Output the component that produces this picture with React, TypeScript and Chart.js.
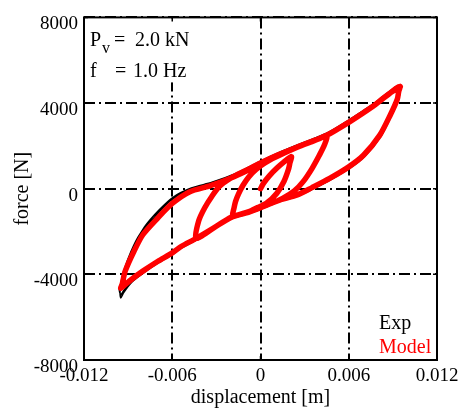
import React, { useEffect, useRef } from 'react';
import { Chart, registerables } from 'chart.js';

Chart.register(...registerables);

// ---------- tick labels ----------
const xTickValues = [-0.012, -0.006, 0, 0.006, 0.012];
const xTickLabels = ['-0.012', '-0.006', '0', '0.006', '0.012'];
const yTickValues = [-8000, -4000, 0, 4000, 8000];
const yTickLabels = ['-8000', '-4000', '0', '4000', '8000'];

// ---------- series: [displacement (m), force (N)] ----------
// Model (red)
const modelStart = [[0, 0], [0.0002, 250], [0.0006, 600], [0.0011, 950], [0.0016, 1250], [0.0021, 1500]];
const modelLoop1Down = [[0.002, 1200], [0.0019, 900], [0.0016, 350], [0.0011, -220], [0.0004, -680], [-0.0002, -880], [-0.0008, -1080], [-0.0014, -1200], [-0.0019, -1300]];
const modelLoop1Up = [[-0.0018, -900], [-0.0017, -600], [-0.0015, -250], [-0.0012, 150], [-0.0008, 550], [-0.0003, 900], [0.0003, 1200], [0.0012, 1550], [0.0025, 1950], [0.0035, 2200], [0.0045, 2450]];
const modelLoop2Down = [[0.00435, 2050], [0.004, 1560], [0.0035, 940], [0.0029, 330], [0.0023, -100], [0.0015, -450], [0.0005, -750], [-0.0007, -1070], [-0.002, -1340], [-0.0032, -1840], [-0.0044, -2330]];
const modelLoop2Up = [[-0.0042, -1500], [-0.0038, -900], [-0.0033, -350], [-0.0028, 100], [-0.002, 500], [-0.001, 850], [0, 1200], [0.0012, 1580], [0.0025, 1950], [0.0045, 2500], [0.006, 3100], [0.007, 3550], [0.0077, 3875], [0.0083, 4200], [0.0088, 4460], [0.0092, 4680], [0.0095, 4770]];
const modelOuterDown = [[0.0094, 4550], [0.0093, 4180], [0.0088, 3410], [0.0081, 2490], [0.007, 1560], [0.006, 1020], [0.0047, 480], [0.0035, 50], [0.0025, -290], [0.0013, -530], [0.0002, -830], [-0.001, -1120], [-0.002, -1330], [-0.0032, -1840], [-0.0044, -2330], [-0.0054, -2700], [-0.006, -3000], [-0.007, -3400], [-0.008, -3850], [-0.0088, -4250], [-0.0095, -4650]];
const modelOuterUp = [[-0.0094, -4450], [-0.0092, -3850], [-0.0086, -2920], [-0.008, -2150], [-0.007, -1380], [-0.006, -690], [-0.0048, -140], [-0.0034, 140], [-0.0018, 560], [0, 1150], [0.0025, 1940], [0.0045, 2490], [0.006, 3100], [0.0077, 3875], [0.0088, 4460], [0.0094, 4720], [0.0095, 4770]];

// Exp (black)
const expStart = [[0, 0], [0.0002, 280], [0.0006, 630], [0.0011, 980], [0.0016, 1280], [0.0021, 1530]];
const expLoop1Down = [[0.002, 1230], [0.0019, 900], [0.0016, 320], [0.0011, -270], [0.0004, -740], [-0.0002, -940], [-0.0008, -1140], [-0.0014, -1260], [-0.0019, -1370]];
const expLoop1Up = [[-0.0018, -950], [-0.0017, -630], [-0.0015, -250], [-0.0012, 180], [-0.0008, 610], [-0.0003, 970], [0.0003, 1290], [0.0012, 1640], [0.0025, 2040], [0.0035, 2290], [0.0045, 2540]];
const expLoop2Down = [[0.00437, 2100], [0.004, 1570], [0.0035, 920], [0.0029, 290], [0.0023, -150], [0.0015, -510], [0.0005, -820], [-0.0007, -1140], [-0.002, -1410], [-0.0032, -1910], [-0.0044, -2410]];
const expLoop2Up = [[-0.00425, -1600], [-0.0039, -950], [-0.0034, -380], [-0.0029, 100], [-0.002, 580], [-0.001, 940], [0, 1290], [0.0012, 1670], [0.0025, 2040], [0.0045, 2590], [0.006, 3200], [0.007, 3650], [0.0077, 3970], [0.0083, 4300], [0.0088, 4560], [0.0092, 4760], [0.00955, 4830]];
const expOuterDown1 = [[0.0095, 4600], [0.0094, 4200], [0.0089, 3400], [0.0082, 2460], [0.0071, 1520], [0.0061, 970], [0.0048, 430], [0.0036, 0], [0.0025, -360], [0.0013, -600], [0.0002, -900], [-0.001, -1190], [-0.002, -1400], [-0.0032, -1910], [-0.0044, -2410], [-0.0054, -2780], [-0.006, -3080], [-0.007, -3490], [-0.008, -3960], [-0.0088, -4400], [-0.0093, -4850], [-0.0095, -5100]];
const expOuterUp1 = [[-0.00955, -4850], [-0.0095, -4450], [-0.0093, -3850], [-0.0088, -2920], [-0.0082, -2120], [-0.0072, -1330], [-0.0062, -600], [-0.005, -100], [-0.0035, 200], [-0.0018, 650], [0, 1260], [0.0025, 2040], [0.0045, 2590], [0.006, 3200], [0.0077, 3970], [0.0088, 4560], [0.0094, 4800], [0.0095, 4830]];
const expOuterDown2 = [[0.00945, 4550], [0.0094, 4200], [0.0089, 3410], [0.0082, 2470], [0.0071, 1530], [0.0061, 980], [0.0048, 440], [0.0036, 10], [0.0025, -350], [0.0013, -590], [0.0002, -890], [-0.001, -1180], [-0.002, -1390], [-0.0032, -1900], [-0.0044, -2400], [-0.0054, -2770], [-0.006, -3060], [-0.007, -3470], [-0.008, -3930], [-0.0088, -4350], [-0.0093, -4750], [-0.0095, -4950]];
const expOuterUp2 = [[-0.0096, -4700], [-0.0094, -4250], [-0.0091, -3550], [-0.0086, -2650], [-0.0079, -1800], [-0.0069, -1000], [-0.0059, -380], [-0.0047, 30], [-0.0033, 300], [-0.0018, 680], [0, 1270]];

const modelPath = [modelStart, modelLoop1Down, modelLoop1Up, modelLoop2Down, modelLoop2Up, modelOuterDown, modelOuterUp];
const expPath = [expStart, expLoop1Down, expLoop1Up, expLoop2Down, expLoop2Up, expOuterDown1, expOuterUp1, expOuterDown2, expOuterUp2];

const SERIF = "'Liberation Serif', 'Times New Roman', serif";

const toPoints = (segs: number[][][]) => segs.flat().map(([x, y]) => ({ x, y }));

const decorPlugin = {
  id: 'decor',
  afterDraw(chart: any) {
    const { ctx, chartArea, scales } = chart;
    const { left, right, top, bottom } = chartArea;
    ctx.save();
    ctx.setLineDash([]);

    // white box behind the annotation text (covers grid)
    ctx.fillStyle = '#fff';
    ctx.fillRect(left + 1, top + 1, 112, 64);

    ctx.strokeStyle = '#000';
    ctx.lineWidth = 1.5;
    ctx.beginPath();
    xTickValues.forEach((v) => {
      const px = scales.x.getPixelForValue(v);
      ctx.moveTo(px, bottom); ctx.lineTo(px, bottom - 4);
      ctx.moveTo(px, top); ctx.lineTo(px, top + 4);
    });
    yTickValues.forEach((v) => {
      const py = scales.y.getPixelForValue(v);
      ctx.moveTo(left, py); ctx.lineTo(left + 4, py);
      ctx.moveTo(right, py); ctx.lineTo(right - 4, py);
    });
    ctx.stroke();
    ctx.lineWidth = 2;
    ctx.strokeRect(left, top, right - left, bottom - top);

    // annotation text
    ctx.fillStyle = '#000';
    ctx.textAlign = 'left';
    ctx.textBaseline = 'alphabetic';
    ctx.font = `20px ${SERIF}`;
    ctx.fillText('P', left + 6, top + 29);
    ctx.font = `16px ${SERIF}`;
    ctx.fillText('v', left + 18, top + 36);
    ctx.font = `20px ${SERIF}`;
    ctx.fillText('=', left + 30, top + 29);
    ctx.fillText('2.0 kN', left + 51, top + 29);
    ctx.fillText('f', left + 6, top + 60);
    ctx.fillText('=', left + 31, top + 60);
    ctx.fillText('1.0 Hz', left + 49, top + 60);

    // legend text
    ctx.fillStyle = '#000';
    ctx.fillText('Exp', right - 58, bottom - 31);
    ctx.fillStyle = '#ff0000';
    ctx.fillText('Model', right - 58, bottom - 7);
    ctx.restore();
  },
};

export default function App() {
  const ref = useRef<HTMLCanvasElement | null>(null);
  useEffect(() => {
    if (!ref.current) return;
    const dash = [11, 4, 2, 4];
    const chart = new Chart(ref.current, {
      type: 'scatter',
      data: {
        datasets: [
          {
            label: 'Model',
            data: toPoints(modelPath),
            showLine: true,
            borderColor: '#ff0000',
            backgroundColor: '#ff0000',
            borderWidth: 5.5,
            pointRadius: 0,
            tension: 0.25,
            borderJoinStyle: 'round',
            borderCapStyle: 'round',
            order: 1,
          } as any,
          {
            label: 'Exp',
            data: toPoints(expPath),
            showLine: true,
            borderColor: '#000000',
            backgroundColor: '#000000',
            borderWidth: 1.5,
            pointRadius: 0,
            tension: 0.25,
            borderJoinStyle: 'round',
            order: 2,
          } as any,
        ],
      },
      options: {
        animation: false,
        responsive: false,
        devicePixelRatio: 1,
        layout: { padding: { left: 0, right: 37, top: 14, bottom: 0 } },
        plugins: { legend: { display: false }, tooltip: { enabled: false } },
        scales: {
          x: {
            type: 'linear',
            min: -0.012,
            max: 0.012,
            afterBuildTicks: (s: any) => { s.ticks = xTickValues.map((v) => ({ value: v })); },
            afterFit: (s: any) => { s.height = 50; },
            ticks: {
              callback: (_v: any, i: number) => xTickLabels[i],
              font: { family: SERIF, size: 19 },
              color: '#000',
              padding: 5,
              maxRotation: 0,
              autoSkip: false,
            },
            grid: { color: '#000', lineWidth: 2, drawTicks: false, borderDash: dash } as any,
            border: { display: false, dash },
            title: {
              display: true,
              text: 'displacement [m]',
              font: { family: SERIF, size: 20 },
              color: '#000',
              padding: { top: 0, bottom: 0 },
            },
          },
          y: {
            type: 'linear',
            min: -8000,
            max: 8000,
            afterBuildTicks: (s: any) => { s.ticks = yTickValues.map((v) => ({ value: v })); },
            afterFit: (s: any) => { s.width = 84; },
            ticks: {
              callback: (_v: any, i: number) => yTickLabels[i],
              font: { family: SERIF, size: 19 },
              color: '#000',
              padding: 6,
              labelOffset: 7,
              autoSkip: false,
            },
            grid: { color: '#000', lineWidth: 2, drawTicks: false, borderDash: dash } as any,
            border: { display: false, dash },
            title: {
              display: true,
              text: 'force [N]',
              font: { family: SERIF, size: 20 },
              color: '#000',
              padding: { top: 11, bottom: 0 },
            },
          },
        },
      } as any,
      plugins: [decorPlugin],
    });
    return () => chart.destroy();
  }, []);

  return (
    <div style={{ position: 'absolute', left: 0, top: 0, width: 474, height: 410, background: '#fff' }}>
      <canvas ref={ref} width={474} height={410} style={{ display: 'block' }} />
    </div>
  );
}
